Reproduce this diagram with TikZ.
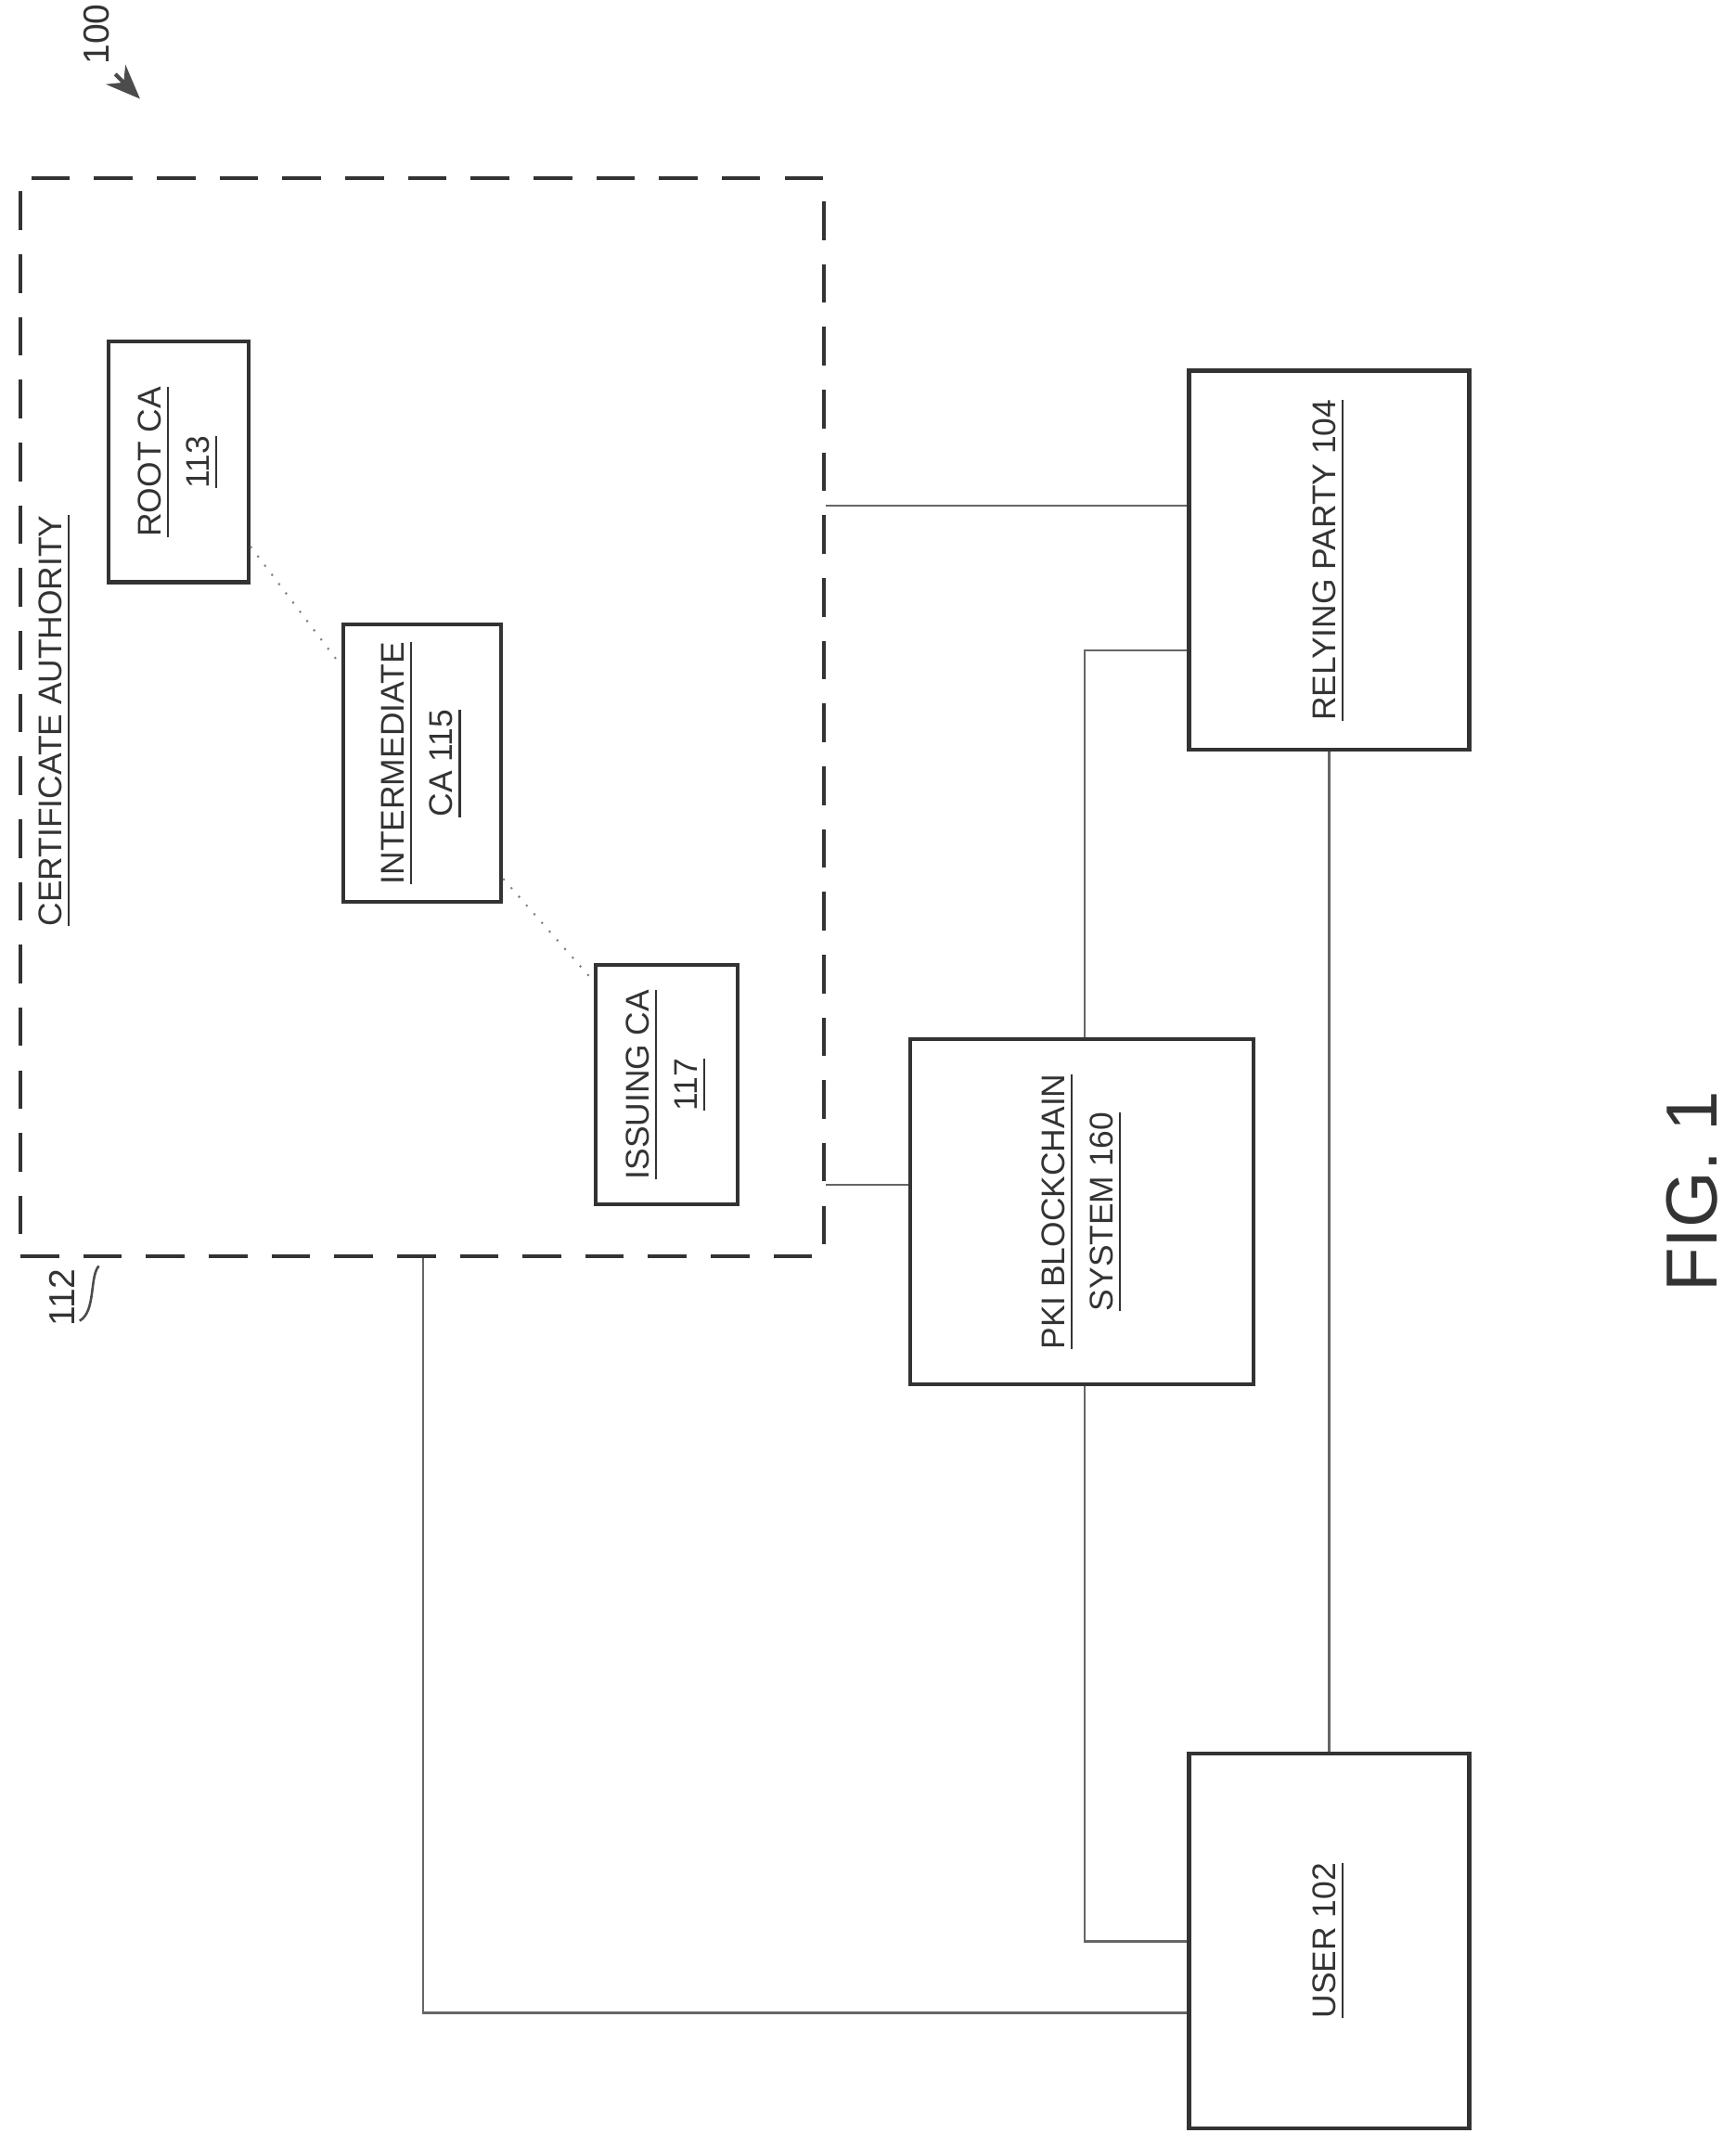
\documentclass[tikz,border=0pt]{standalone}
\usepackage{fontspec}
\setmainfont{Liberation Sans}
\usetikzlibrary{positioning, arrows.meta}

\begin{document}
\begin{tikzpicture}[x=0.01cm, y=-0.01cm]
    \tikzstyle{block} = [rectangle, draw=black!80, line width=0.8pt, inner sep=0pt]
    \tikzstyle{caption} = [rotate=90, align=center, font=\fontsize{6.8}{10}\selectfont, text=black!80]
    \tikzstyle{line} = [draw, black!60, line width=0.4pt]
    \tikzstyle{chain_line} = [draw, black!50, dotted, line width=0.4pt]

    \useasboundingbox (0,0) rectangle (1264,1563);

    % certificate authority group
    \node [block, dashed, dash pattern=on 8pt off 5pt, minimum width=5.85cm, minimum height=7.85cm] (ca) at (307.5,522.5) {};
    \node [caption] (ca_label) at (40,525) {\underline{CERTIFICATE AUTHORITY}};

    \node [block, minimum width=1.02cm, minimum height=1.75cm] (root) at (130,336.5) {};
    \node [caption] (root_label) at (root) {\underline{ROOT CA}\\\underline{113}};
    \node [block, minimum width=1.15cm, minimum height=2.02cm] (inter) at (307.5,556) {};
    \node [caption] (inter_label) at (inter) {\underline{INTERMEDIATE}\\\underline{CA 115}};
    \node [block, minimum width=1.03cm, minimum height=1.74cm] (issuing) at (485.5,790) {};
    \node [caption] (issuing_label) at (issuing) {\underline{ISSUING CA}\\\underline{117}};

    % other parties
    \node [block, minimum width=2.04cm, minimum height=2.76cm] (relying) at (968,408) {};
    \node [caption] (relying_label) at (relying) {\underline{RELYING PARTY 104}};
    \node [block, minimum width=2.5cm, minimum height=2.51cm] (pki) at (788,882.5) {};
    \node [caption] (pki_label) at (pki) {\underline{PKI BLOCKCHAIN}\\\underline{SYSTEM 160}};
    \node [block, minimum width=2.04cm, minimum height=2.73cm] (user) at (968,1413.5) {};
    \node [caption] (user_label) at (user) {\underline{USER 102}};

    % reference labels
    \node [caption, font=\fontsize{7.5}{9}\selectfont] (num100) at (70,25) {100};
    \node [caption, font=\fontsize{7.5}{9}\selectfont] (num112) at (45,945) {112};
    \node [caption, font=\fontsize{15}{18}\selectfont] (fig) at (1232,868) {FIG. 1};
    \coordinate (arrow_tail) at (84,54);
    \coordinate (ca_corner) at (72,922);
    \draw [black!70, line width=0.8pt, -{Stealth[length=2.5mm, width=2mm]}] (arrow_tail) -- (102,72);
    \draw [black!70, line width=0.5pt] (58,962) .. controls (70,955) and (65,930) .. (ca_corner);

    % connections
    \path [line] (ca.east |- 0,368) -- (relying.west |- 0,368);
    \path [line] (ca.east |- 0,863) -- (pki.west |- 0,863);
    \path [chain_line] (root.east |- 0,398) -- (inter.west |- 0,485);
    \path [chain_line] (inter.east |- 0,640) -- (issuing.west |- 0,715);
    \path [line] (pki.north -| 790,0) |- (relying.west |- 0,474);
    \path [line] (relying.south) -- (user.north);
    \path [line] (pki.south -| 790,0) |- (user.west |- 0,1414);
    \path [line] (ca.south -| 308,0) |- (user.west |- 0,1466);
\end{tikzpicture}
\end{document}
